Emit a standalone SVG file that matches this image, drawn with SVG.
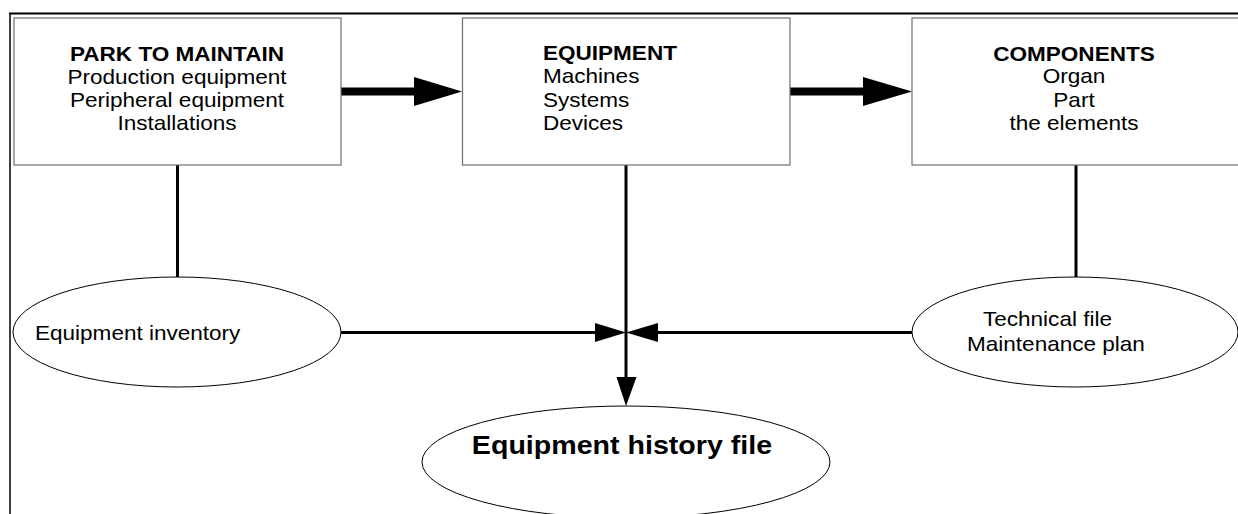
<svg xmlns="http://www.w3.org/2000/svg" width="1238" height="514" viewBox="0 0 1238 514">
<style>
text{font-family:"Liberation Sans",Arial,sans-serif;font-size:20.5px;fill:#000}
.b{font-weight:bold}
.c{text-anchor:middle}
.box{fill:#fff;stroke:#6e6e6e;stroke-width:1.2}
.ell{fill:#fff;stroke:#000;stroke-width:1}
.ln{stroke:#000;fill:none}
.head{fill:#000}
</style>
<rect width="1238" height="514" fill="#fff"/>
<g id="frame">
<line x1="9" y1="13.5" x2="1238" y2="13.5" stroke="#000" stroke-width="2"/>
<line x1="10" y1="13" x2="10" y2="514" stroke="#000" stroke-width="1.5"/>
</g>
<g id="connectors">
<line class="ln" x1="341" y1="91.5" x2="416" y2="91.5" stroke-width="8"/>
<polygon class="head" points="414,77 462,91.5 414,106"/>
<line class="ln" x1="790" y1="91.5" x2="865" y2="91.5" stroke-width="8"/>
<polygon class="head" points="863,77 912,91.5 863,106"/>
<line class="ln" x1="177.5" y1="165" x2="177.5" y2="277" stroke-width="3"/>
<line class="ln" x1="1076" y1="165" x2="1076" y2="277" stroke-width="3"/>
<line class="ln" x1="626" y1="165" x2="626" y2="380" stroke-width="3"/>
<polygon class="head" points="616.5,377 636.5,377 626,406"/>
<line class="ln" x1="341" y1="332.5" x2="597" y2="332.5" stroke-width="3"/>
<polygon class="head" points="595,323 626,332.5 595,342"/>
<line class="ln" x1="912" y1="332.5" x2="656" y2="332.5" stroke-width="3"/>
<polygon class="head" points="658,323 626,332.5 658,342"/>
</g>
<g id="park">
<rect class="box" x="14" y="18" width="327" height="147"/>
<text class="c" x="177" y="61" transform="matrix(1.1 0 0 1 -17.7 0)"><tspan class="b">PARK TO MAINTAIN</tspan><tspan x="177" y="84">Production equipment</tspan><tspan x="177" y="107">Peripheral equipment</tspan><tspan x="177" y="130">Installations</tspan></text>
</g>
<g id="equipment">
<rect class="box" x="462.5" y="18" width="327.5" height="147"/>
<text x="543" y="60" transform="matrix(1.1 0 0 1 -54.3 0)"><tspan class="b">EQUIPMENT</tspan><tspan x="543" y="83">Machines</tspan><tspan x="543" y="107">Systems</tspan><tspan x="543" y="130">Devices</tspan></text>
</g>
<g id="components">
<rect class="box" x="912" y="18" width="330" height="147"/>
<text class="c" x="1074" y="61" transform="matrix(1.1 0 0 1 -107.4 0)"><tspan class="b">COMPONENTS</tspan><tspan x="1074" y="83">Organ</tspan><tspan x="1074" y="107">Part</tspan><tspan x="1074" y="130">the elements</tspan></text>
</g>
<g id="inventory">
<ellipse class="ell" cx="177" cy="332" rx="164" ry="55"/>
<text x="35" y="340" transform="matrix(1.1 0 0 1 -3.5 0)">Equipment inventory</text>
</g>
<g id="technical">
<ellipse class="ell" cx="1075" cy="332" rx="163" ry="55"/>
<text x="983" y="326" transform="matrix(1.1 0 0 1 -98.3 0)">Technical file</text>
<text x="967" y="351" transform="matrix(1.1 0 0 1 -96.7 0)">Maintenance plan</text>
</g>
<g id="history">
<ellipse class="ell" cx="626" cy="462" rx="204" ry="56"/>
<text class="c b" x="622" y="454" style="font-size:26px" transform="matrix(1.1 0 0 1 -62.2 0)">Equipment history file</text>
</g>
</svg>
